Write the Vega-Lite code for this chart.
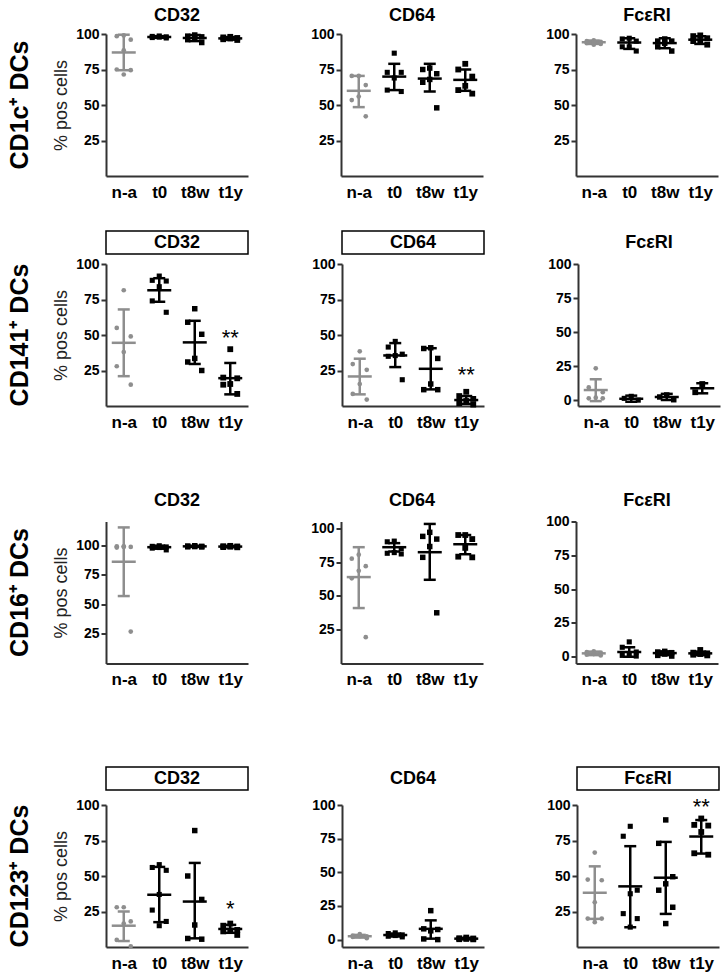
{
"$schema":"https://vega.github.io/schema/vega-lite/v6.json",
"padding":{"left":7,"top":4,"right":3,"bottom":3},
"background":"#ffffff",
"config":{
 "view":{"stroke":null},
 "font":"Liberation Sans",
 "axis":{"domainColor":"#333333","domainWidth":2,"tickColor":"#333333","tickWidth":2,"tickSize":5,"labelFont":"Liberation Sans","labelFontWeight":"bold","labelColor":"#000000","labelFontSize":14,"labelPadding":2,"labelOverlap":false,"grid":false,"titleFont":"Liberation Sans","titleFontWeight":"normal","titleFontSize":18,"titleColor":"#222222","titlePadding":5},
 "axisX":{"ticks":false,"labelFontSize":17,"labelPadding":8,"labelAngle":0},
 "title":{"font":"Liberation Sans","color":"#000000"}
},
"datasets":{
 "pts":[
  {"p":"1a","g":"n-a","v":99},{"p":"1a","g":"n-a","v":98.5},{"p":"1a","g":"n-a","v":96},{"p":"1a","g":"n-a","v":88.5},{"p":"1a","g":"n-a","v":75},{"p":"1a","g":"n-a","v":74.5},{"p":"1a","g":"n-a","v":71.5},
  {"p":"1a","g":"t0","v":98.6},{"p":"1a","g":"t0","v":98.3},{"p":"1a","g":"t0","v":98},{"p":"1a","g":"t0","v":97.8},{"p":"1a","g":"t0","v":97.5},{"p":"1a","g":"t0","v":97.2},
  {"p":"1a","g":"t8w","v":99.3},{"p":"1a","g":"t8w","v":98.5},{"p":"1a","g":"t8w","v":98},{"p":"1a","g":"t8w","v":97.2},{"p":"1a","g":"t8w","v":96},{"p":"1a","g":"t8w","v":94},
  {"p":"1a","g":"t1y","v":98},{"p":"1a","g":"t1y","v":97.6},{"p":"1a","g":"t1y","v":97.2},{"p":"1a","g":"t1y","v":96.8},{"p":"1a","g":"t1y","v":96.3},{"p":"1a","g":"t1y","v":95.8},
  {"p":"1b","g":"n-a","v":70.5},{"p":"1b","g":"n-a","v":70.5},{"p":"1b","g":"n-a","v":64},{"p":"1b","g":"n-a","v":56},{"p":"1b","g":"n-a","v":53.5},{"p":"1b","g":"n-a","v":42},
  {"p":"1b","g":"t0","v":86.5},{"p":"1b","g":"t0","v":73},{"p":"1b","g":"t0","v":73},{"p":"1b","g":"t0","v":69},{"p":"1b","g":"t0","v":60.5},{"p":"1b","g":"t0","v":59.5},
  {"p":"1b","g":"t8w","v":76},{"p":"1b","g":"t8w","v":75},{"p":"1b","g":"t8w","v":72},{"p":"1b","g":"t8w","v":68},{"p":"1b","g":"t8w","v":66},{"p":"1b","g":"t8w","v":48},
  {"p":"1b","g":"t1y","v":79},{"p":"1b","g":"t1y","v":75},{"p":"1b","g":"t1y","v":70},{"p":"1b","g":"t1y","v":63.5},{"p":"1b","g":"t1y","v":60.5},{"p":"1b","g":"t1y","v":58},
  {"p":"1c","g":"n-a","v":95.5},{"p":"1c","g":"n-a","v":95},{"p":"1c","g":"n-a","v":94.5},{"p":"1c","g":"n-a","v":94},{"p":"1c","g":"n-a","v":93.5},{"p":"1c","g":"n-a","v":93},{"p":"1c","g":"n-a","v":92.5},
  {"p":"1c","g":"t0","v":97},{"p":"1c","g":"t0","v":96.5},{"p":"1c","g":"t0","v":95},{"p":"1c","g":"t0","v":91},{"p":"1c","g":"t0","v":91},{"p":"1c","g":"t0","v":88},
  {"p":"1c","g":"t8w","v":96.5},{"p":"1c","g":"t8w","v":95},{"p":"1c","g":"t8w","v":95},{"p":"1c","g":"t8w","v":93.5},{"p":"1c","g":"t8w","v":91},{"p":"1c","g":"t8w","v":88},
  {"p":"1c","g":"t1y","v":99},{"p":"1c","g":"t1y","v":98.5},{"p":"1c","g":"t1y","v":97},{"p":"1c","g":"t1y","v":95},{"p":"1c","g":"t1y","v":95},{"p":"1c","g":"t1y","v":92.5},
  {"p":"2a","g":"n-a","v":81.5},{"p":"2a","g":"n-a","v":55},{"p":"2a","g":"n-a","v":49},{"p":"2a","g":"n-a","v":38},{"p":"2a","g":"n-a","v":28},{"p":"2a","g":"n-a","v":15},
  {"p":"2a","g":"t0","v":91.5},{"p":"2a","g":"t0","v":88.5},{"p":"2a","g":"t0","v":88},{"p":"2a","g":"t0","v":84},{"p":"2a","g":"t0","v":74},{"p":"2a","g":"t0","v":66},
  {"p":"2a","g":"t8w","v":68.5},{"p":"2a","g":"t8w","v":59},{"p":"2a","g":"t8w","v":50.5},{"p":"2a","g":"t8w","v":33.5},{"p":"2a","g":"t8w","v":31},{"p":"2a","g":"t8w","v":25},
  {"p":"2a","g":"t1y","v":40},{"p":"2a","g":"t1y","v":20},{"p":"2a","g":"t1y","v":19.5},{"p":"2a","g":"t1y","v":15.5},{"p":"2a","g":"t1y","v":15},{"p":"2a","g":"t1y","v":8.5},
  {"p":"2b","g":"n-a","v":38.5},{"p":"2b","g":"n-a","v":29.5},{"p":"2b","g":"n-a","v":25.5},{"p":"2b","g":"n-a","v":15.5},{"p":"2b","g":"n-a","v":8.5},{"p":"2b","g":"n-a","v":4.5},
  {"p":"2b","g":"t0","v":45.5},{"p":"2b","g":"t0","v":41.5},{"p":"2b","g":"t0","v":36.5},{"p":"2b","g":"t0","v":35.5},{"p":"2b","g":"t0","v":35},{"p":"2b","g":"t0","v":18.5},
  {"p":"2b","g":"t8w","v":41},{"p":"2b","g":"t8w","v":40.5},{"p":"2b","g":"t8w","v":33.5},{"p":"2b","g":"t8w","v":15.5},{"p":"2b","g":"t8w","v":11.5},{"p":"2b","g":"t8w","v":11.5},
  {"p":"2b","g":"t1y","v":10},{"p":"2b","g":"t1y","v":7},{"p":"2b","g":"t1y","v":5},{"p":"2b","g":"t1y","v":3.5},{"p":"2b","g":"t1y","v":2},{"p":"2b","g":"t1y","v":1},
  {"p":"2c","g":"n-a","v":23.5},{"p":"2c","g":"n-a","v":9.5},{"p":"2c","g":"n-a","v":6},{"p":"2c","g":"n-a","v":2},{"p":"2c","g":"n-a","v":1.5},{"p":"2c","g":"n-a","v":1.5},
  {"p":"2c","g":"t0","v":3},{"p":"2c","g":"t0","v":1.5},{"p":"2c","g":"t0","v":0.2},
  {"p":"2c","g":"t8w","v":4},{"p":"2c","g":"t8w","v":2.5},{"p":"2c","g":"t8w","v":0.5},
  {"p":"2c","g":"t1y","v":12},{"p":"2c","g":"t1y","v":6},
  {"p":"3a","g":"n-a","v":99},{"p":"3a","g":"n-a","v":98.5},{"p":"3a","g":"n-a","v":98},{"p":"3a","g":"n-a","v":98.5},{"p":"3a","g":"n-a","v":99},{"p":"3a","g":"n-a","v":27},
  {"p":"3a","g":"t0","v":99.5},{"p":"3a","g":"t0","v":99},{"p":"3a","g":"t0","v":98.5},{"p":"3a","g":"t0","v":98},{"p":"3a","g":"t0","v":97.5},{"p":"3a","g":"t0","v":96},
  {"p":"3a","g":"t8w","v":99.5},{"p":"3a","g":"t8w","v":99.3},{"p":"3a","g":"t8w","v":99},{"p":"3a","g":"t8w","v":98.8},{"p":"3a","g":"t8w","v":98.6},{"p":"3a","g":"t8w","v":98.5},
  {"p":"3a","g":"t1y","v":99.4},{"p":"3a","g":"t1y","v":99.1},{"p":"3a","g":"t1y","v":98.9},{"p":"3a","g":"t1y","v":98.7},{"p":"3a","g":"t1y","v":98.4},{"p":"3a","g":"t1y","v":98.2},
  {"p":"3b","g":"n-a","v":80.5},{"p":"3b","g":"n-a","v":77.5},{"p":"3b","g":"n-a","v":72},{"p":"3b","g":"n-a","v":68.5},{"p":"3b","g":"n-a","v":63},{"p":"3b","g":"n-a","v":19.5},
  {"p":"3b","g":"t0","v":90.5},{"p":"3b","g":"t0","v":90},{"p":"3b","g":"t0","v":85},{"p":"3b","g":"t0","v":82},{"p":"3b","g":"t0","v":81.5},{"p":"3b","g":"t0","v":81},
  {"p":"3b","g":"t8w","v":97},{"p":"3b","g":"t8w","v":94},{"p":"3b","g":"t8w","v":92},{"p":"3b","g":"t8w","v":86.5},{"p":"3b","g":"t8w","v":78.5},{"p":"3b","g":"t8w","v":37.5},
  {"p":"3b","g":"t1y","v":95},{"p":"3b","g":"t1y","v":95},{"p":"3b","g":"t1y","v":92},{"p":"3b","g":"t1y","v":85.5},{"p":"3b","g":"t1y","v":79},{"p":"3b","g":"t1y","v":78.5},
  {"p":"3c","g":"n-a","v":4},{"p":"3c","g":"n-a","v":3.5},{"p":"3c","g":"n-a","v":3},{"p":"3c","g":"n-a","v":2},{"p":"3c","g":"n-a","v":1.5},{"p":"3c","g":"n-a","v":1},
  {"p":"3c","g":"t0","v":11},{"p":"3c","g":"t0","v":7},{"p":"3c","g":"t0","v":3.5},{"p":"3c","g":"t0","v":2},{"p":"3c","g":"t0","v":1},{"p":"3c","g":"t0","v":0.5},
  {"p":"3c","g":"t8w","v":4},{"p":"3c","g":"t8w","v":3.5},{"p":"3c","g":"t8w","v":3},{"p":"3c","g":"t8w","v":2},{"p":"3c","g":"t8w","v":1},{"p":"3c","g":"t8w","v":0.5},
  {"p":"3c","g":"t1y","v":5},{"p":"3c","g":"t1y","v":3},{"p":"3c","g":"t1y","v":2.5},{"p":"3c","g":"t1y","v":2},{"p":"3c","g":"t1y","v":1.5},{"p":"3c","g":"t1y","v":1},
  {"p":"4a","g":"n-a","v":28},{"p":"4a","g":"n-a","v":28},{"p":"4a","g":"n-a","v":18},{"p":"4a","g":"n-a","v":16.5},{"p":"4a","g":"n-a","v":5},{"p":"4a","g":"n-a","v":0.5},
  {"p":"4a","g":"t0","v":58},{"p":"4a","g":"t0","v":56},{"p":"4a","g":"t0","v":54},{"p":"4a","g":"t0","v":37},{"p":"4a","g":"t0","v":26},{"p":"4a","g":"t0","v":18},{"p":"4a","g":"t0","v":15},
  {"p":"4a","g":"t8w","v":82},{"p":"4a","g":"t8w","v":50},{"p":"4a","g":"t8w","v":33.5},{"p":"4a","g":"t8w","v":15.5},{"p":"4a","g":"t8w","v":6},{"p":"4a","g":"t8w","v":5.5},
  {"p":"4a","g":"t1y","v":16.5},{"p":"4a","g":"t1y","v":15},{"p":"4a","g":"t1y","v":12},{"p":"4a","g":"t1y","v":11.5},{"p":"4a","g":"t1y","v":11},{"p":"4a","g":"t1y","v":8.5},
  {"p":"4b","g":"n-a","v":4},{"p":"4b","g":"n-a","v":3},{"p":"4b","g":"n-a","v":2.5},{"p":"4b","g":"n-a","v":2.5},{"p":"4b","g":"n-a","v":2},{"p":"4b","g":"n-a","v":1},
  {"p":"4b","g":"t0","v":5},{"p":"4b","g":"t0","v":4.5},{"p":"4b","g":"t0","v":3.5},{"p":"4b","g":"t0","v":3},{"p":"4b","g":"t0","v":2.5},{"p":"4b","g":"t0","v":2},
  {"p":"4b","g":"t8w","v":21.5},{"p":"4b","g":"t8w","v":8},{"p":"4b","g":"t8w","v":7.5},{"p":"4b","g":"t8w","v":6.5},{"p":"4b","g":"t8w","v":0.5},{"p":"4b","g":"t8w","v":0},
  {"p":"4b","g":"t1y","v":1.5},{"p":"4b","g":"t1y","v":1},{"p":"4b","g":"t1y","v":0.8},{"p":"4b","g":"t1y","v":0.5},{"p":"4b","g":"t1y","v":0.3},{"p":"4b","g":"t1y","v":0.2},
  {"p":"4c","g":"n-a","v":66.5},{"p":"4c","g":"n-a","v":47.5},{"p":"4c","g":"n-a","v":47},{"p":"4c","g":"n-a","v":31.5},{"p":"4c","g":"n-a","v":20},{"p":"4c","g":"n-a","v":20},{"p":"4c","g":"n-a","v":17.5},
  {"p":"4c","g":"t0","v":85},{"p":"4c","g":"t0","v":78},{"p":"4c","g":"t0","v":40},{"p":"4c","g":"t0","v":37.5},{"p":"4c","g":"t0","v":23.5},{"p":"4c","g":"t0","v":20},{"p":"4c","g":"t0","v":14},
  {"p":"4c","g":"t8w","v":89.5},{"p":"4c","g":"t8w","v":73},{"p":"4c","g":"t8w","v":49.5},{"p":"4c","g":"t8w","v":44.5},{"p":"4c","g":"t8w","v":40},{"p":"4c","g":"t8w","v":28},{"p":"4c","g":"t8w","v":16.5},
  {"p":"4c","g":"t1y","v":90.5},{"p":"4c","g":"t1y","v":86},{"p":"4c","g":"t1y","v":85.5},{"p":"4c","g":"t1y","v":81},{"p":"4c","g":"t1y","v":66},{"p":"4c","g":"t1y","v":65}
 ],
 "sd":[
  {"p":"1a","g":"n-a","m":87,"lo":74.5,"hi":99.5},{"p":"1a","g":"t0","m":97.9,"lo":97.3,"hi":98.5},{"p":"1a","g":"t8w","m":97.2,"lo":95,"hi":99.3},{"p":"1a","g":"t1y","m":96.9,"lo":96,"hi":97.8},
  {"p":"1b","g":"n-a","m":60,"lo":48.5,"hi":70.5},{"p":"1b","g":"t0","m":70,"lo":60.5,"hi":79},{"p":"1b","g":"t8w","m":68.6,"lo":59.5,"hi":79},{"p":"1b","g":"t1y","m":67.7,"lo":60,"hi":75},
  {"p":"1c","g":"n-a","m":94.2,"lo":93,"hi":95.4},{"p":"1c","g":"t0","m":94,"lo":89.5,"hi":97},{"p":"1c","g":"t8w","m":93.6,"lo":90,"hi":97},{"p":"1c","g":"t1y","m":96,"lo":93,"hi":98.4},
  {"p":"2a","g":"n-a","m":44.5,"lo":21,"hi":68},{"p":"2a","g":"t0","m":81.5,"lo":73.4,"hi":90},{"p":"2a","g":"t8w","m":44.8,"lo":29.6,"hi":60},{"p":"2a","g":"t1y","m":19.6,"lo":8.2,"hi":30.3},
  {"p":"2b","g":"n-a","m":20.8,"lo":8.2,"hi":33.3},{"p":"2b","g":"t0","m":35.6,"lo":27.4,"hi":44.3},{"p":"2b","g":"t8w","m":26.2,"lo":11.7,"hi":40.7},{"p":"2b","g":"t1y","m":4.2,"lo":1.5,"hi":7},
  {"p":"2c","g":"n-a","m":7.6,"lo":-0.5,"hi":15.5},{"p":"2c","g":"t0","m":1.2,"lo":-1,"hi":3.5},{"p":"2c","g":"t8w","m":2.5,"lo":0.3,"hi":4.8},{"p":"2c","g":"t1y","m":8.9,"lo":5.2,"hi":12.6},
  {"p":"3a","g":"n-a","m":86,"lo":57,"hi":115},{"p":"3a","g":"t0","m":98.3,"lo":97,"hi":99.6},{"p":"3a","g":"t8w","m":99,"lo":98.5,"hi":99.5},{"p":"3a","g":"t1y","m":98.8,"lo":98.3,"hi":99.3},
  {"p":"3b","g":"n-a","m":63.9,"lo":41,"hi":86},{"p":"3b","g":"t0","m":86,"lo":82.8,"hi":89},{"p":"3b","g":"t8w","m":82.3,"lo":61.9,"hi":103.2},{"p":"3b","g":"t1y","m":88.2,"lo":80.8,"hi":95},
  {"p":"3c","g":"n-a","m":2.5,"lo":1.2,"hi":3.8},{"p":"3c","g":"t0","m":3.5,"lo":0,"hi":7},{"p":"3c","g":"t8w","m":2.7,"lo":1.2,"hi":4},{"p":"3c","g":"t1y","m":2.5,"lo":1.2,"hi":3.8},
  {"p":"4a","g":"n-a","m":15,"lo":4.2,"hi":25},{"p":"4a","g":"t0","m":36.8,"lo":17.5,"hi":56.4},{"p":"4a","g":"t8w","m":32,"lo":6.1,"hi":59.2},{"p":"4a","g":"t1y","m":12.7,"lo":10,"hi":15.6},
  {"p":"4b","g":"n-a","m":2.5,"lo":1.5,"hi":3.5},{"p":"4b","g":"t0","m":3.4,"lo":2.3,"hi":4.5},{"p":"4b","g":"t8w","m":8,"lo":0.7,"hi":14.3},{"p":"4b","g":"t1y","m":0.7,"lo":0.2,"hi":1.2},
  {"p":"4c","g":"n-a","m":38.2,"lo":19.8,"hi":56.8},{"p":"4c","g":"t0","m":42.7,"lo":13.9,"hi":71},{"p":"4c","g":"t8w","m":48.8,"lo":23.3,"hi":74},{"p":"4c","g":"t1y","m":77.8,"lo":65.8,"hi":89.4}
 ],
 "sig":[
  {"p":"2a","g":"t1y","y":43,"s":"**"},{"p":"2b","g":"t1y","y":16.6,"s":"**"},{"p":"4a","g":"t1y","y":21.8,"s":"*"},{"p":"4c","g":"t1y","y":93.6,"s":"**"}
 ]
},
"vconcat":[
 {"vconcat":[
  {"vconcat":[
   {"concat":[
    {"width":142,"height":23,"data":{"values":[{"t":"CD32"}]},"mark":{"type":"text","fontSize":18,"fontWeight":"bold","color":"#000"},"encoding":{"text":{"field":"t","type":"nominal"}}},
    {"width":142,"height":23,"data":{"values":[{"t":"CD64"}]},"mark":{"type":"text","fontSize":18,"fontWeight":"bold","color":"#000"},"encoding":{"text":{"field":"t","type":"nominal"}}},
    {"width":142,"height":23,"data":{"values":[{"t":"FcεRI"}]},"mark":{"type":"text","fontSize":18,"fontWeight":"bold","color":"#000"},"encoding":{"text":{"field":"t","type":"nominal"}}},
    {"width":142,"height":142,
     "title":{"text":"CD1c⁺ DCs","orient":"left","anchor":"middle","frame":"group","fontSize":25,"fontWeight":"bold","offset":20},
     "encoding":{"x":{"field":"g","type":"nominal","scale":{"type":"point","domain":["n-a","t0","t8w","t1y"],"padding":0.5},"axis":{"title":null}},"color":{"field":"g","type":"nominal","scale":{"domain":["n-a","t0","t8w","t1y"],"range":["#8e8e8e","#000000","#000000","#000000"]},"legend":null}},
     "layer":[
      {"data":{"name":"sd"},"transform":[{"filter":"datum.p=='1a'"}],"mark":{"type":"rule","strokeWidth":2.5},"encoding":{"y":{"field":"lo","type":"quantitative","scale":{"domain":[0,100],"nice":false,"zero":false},"axis":{"values":[25,50,75,100],"tickCount":20,"labelOverlap":false,"titleFontSize":18},"title":"% pos cells"},"y2":{"field":"hi"}}},
      {"data":{"name":"sd"},"transform":[{"filter":"datum.p=='1a'"}],"mark":{"type":"tick","size":24,"thickness":2.5,"opacity":1},"encoding":{"y":{"field":"m","type":"quantitative","title":"% pos cells"}}},
      {"data":{"name":"sd"},"transform":[{"filter":"datum.p=='1a'"}],"mark":{"type":"tick","size":12,"thickness":2.5,"opacity":1},"encoding":{"y":{"field":"lo","type":"quantitative","title":"% pos cells"}}},
      {"data":{"name":"sd"},"transform":[{"filter":"datum.p=='1a'"}],"mark":{"type":"tick","size":12,"thickness":2.5,"opacity":1},"encoding":{"y":{"field":"hi","type":"quantitative","title":"% pos cells"}}},
      {"data":{"name":"pts"},"transform":[{"filter":"datum.p=='1a'"},{"window":[{"op":"row_number","as":"r"}],"groupby":["g"],"sort":[{"field":"v","order":"descending"}]},{"calculate":"datum.r % 3","as":"k"}],"mark":{"type":"point","filled":true,"opacity":1},"encoding":{"y":{"field":"v","type":"quantitative","title":"% pos cells"},"xOffset":{"field":"k","type":"nominal","scale":{"type":"point","domain":[2,1,0],"range":[-7,7],"padding":0}},"shape":{"field":"g","type":"nominal","scale":{"domain":["n-a","t0","t8w","t1y"],"range":["circle","square","square","square"]},"legend":null},"size":{"field":"g","type":"ordinal","scale":{"domain":["n-a","t0","t8w","t1y"],"range":[22,34,34,34]},"legend":null}}}
     ]},
    {"width":142,"height":142,
     "encoding":{"x":{"field":"g","type":"nominal","scale":{"type":"point","domain":["n-a","t0","t8w","t1y"],"padding":0.5},"axis":{"title":null}},"color":{"field":"g","type":"nominal","scale":{"domain":["n-a","t0","t8w","t1y"],"range":["#8e8e8e","#000000","#000000","#000000"]},"legend":null}},
     "layer":[
      {"data":{"name":"sd"},"transform":[{"filter":"datum.p=='1b'"}],"mark":{"type":"rule","strokeWidth":2.5},"encoding":{"y":{"field":"lo","type":"quantitative","scale":{"domain":[0,100],"nice":false,"zero":false},"axis":{"values":[25,50,75,100],"tickCount":20,"labelOverlap":false},"title":null},"y2":{"field":"hi"}}},
      {"data":{"name":"sd"},"transform":[{"filter":"datum.p=='1b'"}],"mark":{"type":"tick","size":24,"thickness":2.5,"opacity":1},"encoding":{"y":{"field":"m","type":"quantitative","title":null}}},
      {"data":{"name":"sd"},"transform":[{"filter":"datum.p=='1b'"}],"mark":{"type":"tick","size":12,"thickness":2.5,"opacity":1},"encoding":{"y":{"field":"lo","type":"quantitative","title":null}}},
      {"data":{"name":"sd"},"transform":[{"filter":"datum.p=='1b'"}],"mark":{"type":"tick","size":12,"thickness":2.5,"opacity":1},"encoding":{"y":{"field":"hi","type":"quantitative","title":null}}},
      {"data":{"name":"pts"},"transform":[{"filter":"datum.p=='1b'"},{"window":[{"op":"row_number","as":"r"}],"groupby":["g"],"sort":[{"field":"v","order":"descending"}]},{"calculate":"datum.r % 3","as":"k"}],"mark":{"type":"point","filled":true,"opacity":1},"encoding":{"y":{"field":"v","type":"quantitative","title":null},"xOffset":{"field":"k","type":"nominal","scale":{"type":"point","domain":[2,1,0],"range":[-7,7],"padding":0}},"shape":{"field":"g","type":"nominal","scale":{"domain":["n-a","t0","t8w","t1y"],"range":["circle","square","square","square"]},"legend":null},"size":{"field":"g","type":"ordinal","scale":{"domain":["n-a","t0","t8w","t1y"],"range":[22,34,34,34]},"legend":null}}}
     ]},
    {"width":142,"height":142,
     "encoding":{"x":{"field":"g","type":"nominal","scale":{"type":"point","domain":["n-a","t0","t8w","t1y"],"padding":0.5},"axis":{"title":null}},"color":{"field":"g","type":"nominal","scale":{"domain":["n-a","t0","t8w","t1y"],"range":["#8e8e8e","#000000","#000000","#000000"]},"legend":null}},
     "layer":[
      {"data":{"name":"sd"},"transform":[{"filter":"datum.p=='1c'"}],"mark":{"type":"rule","strokeWidth":2.5},"encoding":{"y":{"field":"lo","type":"quantitative","scale":{"domain":[0,100],"nice":false,"zero":false},"axis":{"values":[25,50,75,100],"tickCount":20,"labelOverlap":false},"title":null},"y2":{"field":"hi"}}},
      {"data":{"name":"sd"},"transform":[{"filter":"datum.p=='1c'"}],"mark":{"type":"tick","size":24,"thickness":2.5,"opacity":1},"encoding":{"y":{"field":"m","type":"quantitative","title":null}}},
      {"data":{"name":"sd"},"transform":[{"filter":"datum.p=='1c'"}],"mark":{"type":"tick","size":12,"thickness":2.5,"opacity":1},"encoding":{"y":{"field":"lo","type":"quantitative","title":null}}},
      {"data":{"name":"sd"},"transform":[{"filter":"datum.p=='1c'"}],"mark":{"type":"tick","size":12,"thickness":2.5,"opacity":1},"encoding":{"y":{"field":"hi","type":"quantitative","title":null}}},
      {"data":{"name":"pts"},"transform":[{"filter":"datum.p=='1c'"},{"window":[{"op":"row_number","as":"r"}],"groupby":["g"],"sort":[{"field":"v","order":"descending"}]},{"calculate":"datum.r % 3","as":"k"}],"mark":{"type":"point","filled":true,"opacity":1},"encoding":{"y":{"field":"v","type":"quantitative","title":null},"xOffset":{"field":"k","type":"nominal","scale":{"type":"point","domain":[2,1,0],"range":[-7,7],"padding":0}},"shape":{"field":"g","type":"nominal","scale":{"domain":["n-a","t0","t8w","t1y"],"range":["circle","square","square","square"]},"legend":null},"size":{"field":"g","type":"ordinal","scale":{"domain":["n-a","t0","t8w","t1y"],"range":[22,34,34,34]},"legend":null}}}
     ]}
   ],"columns":3,"align":"each","spacing":{"row":0,"column":62}},
   {"concat":[
    {"width":142,"height":23,"view":{"stroke":"#000","strokeWidth":1.5},"data":{"values":[{"t":"CD32"}]},"mark":{"type":"text","fontSize":18,"fontWeight":"bold","color":"#000"},"encoding":{"text":{"field":"t","type":"nominal"}}},
    {"width":142,"height":23,"view":{"stroke":"#000","strokeWidth":1.5},"data":{"values":[{"t":"CD64"}]},"mark":{"type":"text","fontSize":18,"fontWeight":"bold","color":"#000"},"encoding":{"text":{"field":"t","type":"nominal"}}},
    {"width":142,"height":23,"data":{"values":[{"t":"FcεRI"}]},"mark":{"type":"text","fontSize":18,"fontWeight":"bold","color":"#000"},"encoding":{"text":{"field":"t","type":"nominal"}}},
    {"width":142,"height":142,
     "title":{"text":"CD141⁺ DCs","orient":"left","anchor":"middle","frame":"group","fontSize":25,"fontWeight":"bold","offset":20},
     "encoding":{"x":{"field":"g","type":"nominal","scale":{"type":"point","domain":["n-a","t0","t8w","t1y"],"padding":0.5},"axis":{"title":null}},"color":{"field":"g","type":"nominal","scale":{"domain":["n-a","t0","t8w","t1y"],"range":["#8e8e8e","#000000","#000000","#000000"]},"legend":null}},
     "layer":[
      {"data":{"name":"sd"},"transform":[{"filter":"datum.p=='2a'"}],"mark":{"type":"rule","strokeWidth":2.5},"encoding":{"y":{"field":"lo","type":"quantitative","scale":{"domain":[0,100],"nice":false,"zero":false},"axis":{"values":[25,50,75,100],"tickCount":20,"labelOverlap":false,"titleFontSize":18},"title":"% pos cells"},"y2":{"field":"hi"}}},
      {"data":{"name":"sd"},"transform":[{"filter":"datum.p=='2a'"}],"mark":{"type":"tick","size":24,"thickness":2.5,"opacity":1},"encoding":{"y":{"field":"m","type":"quantitative","title":"% pos cells"}}},
      {"data":{"name":"sd"},"transform":[{"filter":"datum.p=='2a'"}],"mark":{"type":"tick","size":12,"thickness":2.5,"opacity":1},"encoding":{"y":{"field":"lo","type":"quantitative","title":"% pos cells"}}},
      {"data":{"name":"sd"},"transform":[{"filter":"datum.p=='2a'"}],"mark":{"type":"tick","size":12,"thickness":2.5,"opacity":1},"encoding":{"y":{"field":"hi","type":"quantitative","title":"% pos cells"}}},
      {"data":{"name":"pts"},"transform":[{"filter":"datum.p=='2a'"},{"window":[{"op":"row_number","as":"r"}],"groupby":["g"],"sort":[{"field":"v","order":"descending"}]},{"calculate":"datum.r % 3","as":"k"}],"mark":{"type":"point","filled":true,"opacity":1},"encoding":{"y":{"field":"v","type":"quantitative","title":"% pos cells"},"xOffset":{"field":"k","type":"nominal","scale":{"type":"point","domain":[2,1,0],"range":[-7,7],"padding":0}},"shape":{"field":"g","type":"nominal","scale":{"domain":["n-a","t0","t8w","t1y"],"range":["circle","square","square","square"]},"legend":null},"size":{"field":"g","type":"ordinal","scale":{"domain":["n-a","t0","t8w","t1y"],"range":[22,34,34,34]},"legend":null}}},
      {"data":{"name":"sig"},"transform":[{"filter":"datum.p=='2a'"}],"mark":{"type":"text","fontSize":22,"baseline":"alphabetic"},"encoding":{"y":{"field":"y","type":"quantitative","title":"% pos cells"},"text":{"field":"s","type":"nominal"}}}
     ]},
    {"width":142,"height":142,
     "encoding":{"x":{"field":"g","type":"nominal","scale":{"type":"point","domain":["n-a","t0","t8w","t1y"],"padding":0.5},"axis":{"title":null}},"color":{"field":"g","type":"nominal","scale":{"domain":["n-a","t0","t8w","t1y"],"range":["#8e8e8e","#000000","#000000","#000000"]},"legend":null}},
     "layer":[
      {"data":{"name":"sd"},"transform":[{"filter":"datum.p=='2b'"}],"mark":{"type":"rule","strokeWidth":2.5},"encoding":{"y":{"field":"lo","type":"quantitative","scale":{"domain":[0,100],"nice":false,"zero":false},"axis":{"values":[25,50,75,100],"tickCount":20,"labelOverlap":false},"title":null},"y2":{"field":"hi"}}},
      {"data":{"name":"sd"},"transform":[{"filter":"datum.p=='2b'"}],"mark":{"type":"tick","size":24,"thickness":2.5,"opacity":1},"encoding":{"y":{"field":"m","type":"quantitative","title":null}}},
      {"data":{"name":"sd"},"transform":[{"filter":"datum.p=='2b'"}],"mark":{"type":"tick","size":12,"thickness":2.5,"opacity":1},"encoding":{"y":{"field":"lo","type":"quantitative","title":null}}},
      {"data":{"name":"sd"},"transform":[{"filter":"datum.p=='2b'"}],"mark":{"type":"tick","size":12,"thickness":2.5,"opacity":1},"encoding":{"y":{"field":"hi","type":"quantitative","title":null}}},
      {"data":{"name":"pts"},"transform":[{"filter":"datum.p=='2b'"},{"window":[{"op":"row_number","as":"r"}],"groupby":["g"],"sort":[{"field":"v","order":"descending"}]},{"calculate":"datum.r % 3","as":"k"}],"mark":{"type":"point","filled":true,"opacity":1},"encoding":{"y":{"field":"v","type":"quantitative","title":null},"xOffset":{"field":"k","type":"nominal","scale":{"type":"point","domain":[2,1,0],"range":[-7,7],"padding":0}},"shape":{"field":"g","type":"nominal","scale":{"domain":["n-a","t0","t8w","t1y"],"range":["circle","square","square","square"]},"legend":null},"size":{"field":"g","type":"ordinal","scale":{"domain":["n-a","t0","t8w","t1y"],"range":[22,34,34,34]},"legend":null}}},
      {"data":{"name":"sig"},"transform":[{"filter":"datum.p=='2b'"}],"mark":{"type":"text","fontSize":22,"baseline":"alphabetic"},"encoding":{"y":{"field":"y","type":"quantitative","title":null},"text":{"field":"s","type":"nominal"}}}
     ]},
    {"width":142,"height":142,
     "encoding":{"x":{"field":"g","type":"nominal","scale":{"type":"point","domain":["n-a","t0","t8w","t1y"],"padding":0.5},"axis":{"title":null}},"color":{"field":"g","type":"nominal","scale":{"domain":["n-a","t0","t8w","t1y"],"range":["#8e8e8e","#000000","#000000","#000000"]},"legend":null}},
     "layer":[
      {"data":{"name":"sd"},"transform":[{"filter":"datum.p=='2c'"}],"mark":{"type":"rule","strokeWidth":2.5},"encoding":{"y":{"field":"lo","type":"quantitative","scale":{"domain":[-4.1,100],"nice":false,"zero":false},"axis":{"values":[0,25,50,75,100],"tickCount":20,"labelOverlap":false},"title":null},"y2":{"field":"hi"}}},
      {"data":{"name":"sd"},"transform":[{"filter":"datum.p=='2c'"}],"mark":{"type":"tick","size":24,"thickness":2.5,"opacity":1},"encoding":{"y":{"field":"m","type":"quantitative","title":null}}},
      {"data":{"name":"sd"},"transform":[{"filter":"datum.p=='2c'"}],"mark":{"type":"tick","size":12,"thickness":2.5,"opacity":1},"encoding":{"y":{"field":"lo","type":"quantitative","title":null}}},
      {"data":{"name":"sd"},"transform":[{"filter":"datum.p=='2c'"}],"mark":{"type":"tick","size":12,"thickness":2.5,"opacity":1},"encoding":{"y":{"field":"hi","type":"quantitative","title":null}}},
      {"data":{"name":"pts"},"transform":[{"filter":"datum.p=='2c'"},{"window":[{"op":"row_number","as":"r"}],"groupby":["g"],"sort":[{"field":"v","order":"descending"}]},{"calculate":"datum.r % 3","as":"k"}],"mark":{"type":"point","filled":true,"opacity":1},"encoding":{"y":{"field":"v","type":"quantitative","title":null},"xOffset":{"field":"k","type":"nominal","scale":{"type":"point","domain":[2,1,0],"range":[-7,7],"padding":0}},"shape":{"field":"g","type":"nominal","scale":{"domain":["n-a","t0","t8w","t1y"],"range":["circle","square","square","square"]},"legend":null},"size":{"field":"g","type":"ordinal","scale":{"domain":["n-a","t0","t8w","t1y"],"range":[22,34,34,34]},"legend":null}}}
     ]}
   ],"columns":3,"align":"each","spacing":{"row":2,"column":62}}
  ],"spacing":30},
  {"concat":[
   {"width":142,"height":23,"data":{"values":[{"t":"CD32"}]},"mark":{"type":"text","fontSize":18,"fontWeight":"bold","color":"#000"},"encoding":{"text":{"field":"t","type":"nominal"}}},
   {"width":142,"height":23,"data":{"values":[{"t":"CD64"}]},"mark":{"type":"text","fontSize":18,"fontWeight":"bold","color":"#000"},"encoding":{"text":{"field":"t","type":"nominal"}}},
   {"width":142,"height":23,"data":{"values":[{"t":"FcεRI"}]},"mark":{"type":"text","fontSize":18,"fontWeight":"bold","color":"#000"},"encoding":{"text":{"field":"t","type":"nominal"}}},
   {"width":142,"height":142,
    "title":{"text":"CD16⁺ DCs","orient":"left","anchor":"middle","frame":"group","fontSize":25,"fontWeight":"bold","offset":20},
    "encoding":{"x":{"field":"g","type":"nominal","scale":{"type":"point","domain":["n-a","t0","t8w","t1y"],"padding":0.5},"axis":{"title":null}},"color":{"field":"g","type":"nominal","scale":{"domain":["n-a","t0","t8w","t1y"],"range":["#8e8e8e","#000000","#000000","#000000"]},"legend":null}},
    "layer":[
     {"data":{"name":"sd"},"transform":[{"filter":"datum.p=='3a'"}],"mark":{"type":"rule","strokeWidth":2.5},"encoding":{"y":{"field":"lo","type":"quantitative","scale":{"domain":[0,120],"nice":false,"zero":false},"axis":{"values":[25,50,75,100],"tickCount":20,"labelOverlap":false,"titleFontSize":18},"title":"% pos cells"},"y2":{"field":"hi"}}},
     {"data":{"name":"sd"},"transform":[{"filter":"datum.p=='3a'"}],"mark":{"type":"tick","size":24,"thickness":2.5,"opacity":1},"encoding":{"y":{"field":"m","type":"quantitative","title":"% pos cells"}}},
     {"data":{"name":"sd"},"transform":[{"filter":"datum.p=='3a'"}],"mark":{"type":"tick","size":12,"thickness":2.5,"opacity":1},"encoding":{"y":{"field":"lo","type":"quantitative","title":"% pos cells"}}},
     {"data":{"name":"sd"},"transform":[{"filter":"datum.p=='3a'"}],"mark":{"type":"tick","size":12,"thickness":2.5,"opacity":1},"encoding":{"y":{"field":"hi","type":"quantitative","title":"% pos cells"}}},
     {"data":{"name":"pts"},"transform":[{"filter":"datum.p=='3a'"},{"window":[{"op":"row_number","as":"r"}],"groupby":["g"],"sort":[{"field":"v","order":"descending"}]},{"calculate":"datum.r % 3","as":"k"}],"mark":{"type":"point","filled":true,"opacity":1},"encoding":{"y":{"field":"v","type":"quantitative","title":"% pos cells"},"xOffset":{"field":"k","type":"nominal","scale":{"type":"point","domain":[2,1,0],"range":[-7,7],"padding":0}},"shape":{"field":"g","type":"nominal","scale":{"domain":["n-a","t0","t8w","t1y"],"range":["circle","square","square","square"]},"legend":null},"size":{"field":"g","type":"ordinal","scale":{"domain":["n-a","t0","t8w","t1y"],"range":[22,34,34,34]},"legend":null}}}
    ]},
   {"width":142,"height":142,
    "encoding":{"x":{"field":"g","type":"nominal","scale":{"type":"point","domain":["n-a","t0","t8w","t1y"],"padding":0.5},"axis":{"title":null}},"color":{"field":"g","type":"nominal","scale":{"domain":["n-a","t0","t8w","t1y"],"range":["#8e8e8e","#000000","#000000","#000000"]},"legend":null}},
    "layer":[
     {"data":{"name":"sd"},"transform":[{"filter":"datum.p=='3b'"}],"mark":{"type":"rule","strokeWidth":2.5},"encoding":{"y":{"field":"lo","type":"quantitative","scale":{"domain":[0,105],"nice":false,"zero":false},"axis":{"values":[25,50,75,100],"tickCount":20,"labelOverlap":false},"title":null},"y2":{"field":"hi"}}},
     {"data":{"name":"sd"},"transform":[{"filter":"datum.p=='3b'"}],"mark":{"type":"tick","size":24,"thickness":2.5,"opacity":1},"encoding":{"y":{"field":"m","type":"quantitative","title":null}}},
     {"data":{"name":"sd"},"transform":[{"filter":"datum.p=='3b'"}],"mark":{"type":"tick","size":12,"thickness":2.5,"opacity":1},"encoding":{"y":{"field":"lo","type":"quantitative","title":null}}},
     {"data":{"name":"sd"},"transform":[{"filter":"datum.p=='3b'"}],"mark":{"type":"tick","size":12,"thickness":2.5,"opacity":1},"encoding":{"y":{"field":"hi","type":"quantitative","title":null}}},
     {"data":{"name":"pts"},"transform":[{"filter":"datum.p=='3b'"},{"window":[{"op":"row_number","as":"r"}],"groupby":["g"],"sort":[{"field":"v","order":"descending"}]},{"calculate":"datum.r % 3","as":"k"}],"mark":{"type":"point","filled":true,"opacity":1},"encoding":{"y":{"field":"v","type":"quantitative","title":null},"xOffset":{"field":"k","type":"nominal","scale":{"type":"point","domain":[2,1,0],"range":[-7,7],"padding":0}},"shape":{"field":"g","type":"nominal","scale":{"domain":["n-a","t0","t8w","t1y"],"range":["circle","square","square","square"]},"legend":null},"size":{"field":"g","type":"ordinal","scale":{"domain":["n-a","t0","t8w","t1y"],"range":[22,34,34,34]},"legend":null}}}
    ]},
   {"width":142,"height":142,
    "encoding":{"x":{"field":"g","type":"nominal","scale":{"type":"point","domain":["n-a","t0","t8w","t1y"],"padding":0.5},"axis":{"title":null}},"color":{"field":"g","type":"nominal","scale":{"domain":["n-a","t0","t8w","t1y"],"range":["#8e8e8e","#000000","#000000","#000000"]},"legend":null}},
    "layer":[
     {"data":{"name":"sd"},"transform":[{"filter":"datum.p=='3c'"}],"mark":{"type":"rule","strokeWidth":2.5},"encoding":{"y":{"field":"lo","type":"quantitative","scale":{"domain":[-5,100],"nice":false,"zero":false},"axis":{"values":[0,25,50,75,100],"tickCount":20,"labelOverlap":false},"title":null},"y2":{"field":"hi"}}},
     {"data":{"name":"sd"},"transform":[{"filter":"datum.p=='3c'"}],"mark":{"type":"tick","size":24,"thickness":2.5,"opacity":1},"encoding":{"y":{"field":"m","type":"quantitative","title":null}}},
     {"data":{"name":"sd"},"transform":[{"filter":"datum.p=='3c'"}],"mark":{"type":"tick","size":12,"thickness":2.5,"opacity":1},"encoding":{"y":{"field":"lo","type":"quantitative","title":null}}},
     {"data":{"name":"sd"},"transform":[{"filter":"datum.p=='3c'"}],"mark":{"type":"tick","size":12,"thickness":2.5,"opacity":1},"encoding":{"y":{"field":"hi","type":"quantitative","title":null}}},
     {"data":{"name":"pts"},"transform":[{"filter":"datum.p=='3c'"},{"window":[{"op":"row_number","as":"r"}],"groupby":["g"],"sort":[{"field":"v","order":"descending"}]},{"calculate":"datum.r % 3","as":"k"}],"mark":{"type":"point","filled":true,"opacity":1},"encoding":{"y":{"field":"v","type":"quantitative","title":null},"xOffset":{"field":"k","type":"nominal","scale":{"type":"point","domain":[2,1,0],"range":[-7,7],"padding":0}},"shape":{"field":"g","type":"nominal","scale":{"domain":["n-a","t0","t8w","t1y"],"range":["circle","square","square","square"]},"legend":null},"size":{"field":"g","type":"ordinal","scale":{"domain":["n-a","t0","t8w","t1y"],"range":[22,34,34,34]},"legend":null}}}
    ]}
  ],"columns":3,"align":"each","spacing":{"row":2.5,"column":62}}
 ],"spacing":59},
 {"concat":[
  {"width":142,"height":23,"view":{"stroke":"#000","strokeWidth":1.5},"data":{"values":[{"t":"CD32"}]},"mark":{"type":"text","fontSize":18,"fontWeight":"bold","color":"#000"},"encoding":{"text":{"field":"t","type":"nominal"}}},
  {"width":142,"height":23,"data":{"values":[{"t":"CD64"}]},"mark":{"type":"text","fontSize":18,"fontWeight":"bold","color":"#000"},"encoding":{"text":{"field":"t","type":"nominal"}}},
  {"width":142,"height":23,"view":{"stroke":"#000","strokeWidth":1.5},"data":{"values":[{"t":"FcεRI"}]},"mark":{"type":"text","fontSize":18,"fontWeight":"bold","color":"#000"},"encoding":{"text":{"field":"t","type":"nominal"}}},
  {"width":142,"height":142,
   "title":{"text":"CD123⁺ DCs","orient":"left","anchor":"middle","frame":"group","fontSize":25,"fontWeight":"bold","offset":20},
   "encoding":{"x":{"field":"g","type":"nominal","scale":{"type":"point","domain":["n-a","t0","t8w","t1y"],"padding":0.5},"axis":{"title":null}},"color":{"field":"g","type":"nominal","scale":{"domain":["n-a","t0","t8w","t1y"],"range":["#8e8e8e","#000000","#000000","#000000"]},"legend":null}},
   "layer":[
    {"data":{"name":"sd"},"transform":[{"filter":"datum.p=='4a'"}],"mark":{"type":"rule","strokeWidth":2.5},"encoding":{"y":{"field":"lo","type":"quantitative","scale":{"domain":[0,100],"nice":false,"zero":false},"axis":{"values":[25,50,75,100],"tickCount":20,"labelOverlap":false,"titleFontSize":18},"title":"% pos cells"},"y2":{"field":"hi"}}},
    {"data":{"name":"sd"},"transform":[{"filter":"datum.p=='4a'"}],"mark":{"type":"tick","size":24,"thickness":2.5,"opacity":1},"encoding":{"y":{"field":"m","type":"quantitative","title":"% pos cells"}}},
    {"data":{"name":"sd"},"transform":[{"filter":"datum.p=='4a'"}],"mark":{"type":"tick","size":12,"thickness":2.5,"opacity":1},"encoding":{"y":{"field":"lo","type":"quantitative","title":"% pos cells"}}},
    {"data":{"name":"sd"},"transform":[{"filter":"datum.p=='4a'"}],"mark":{"type":"tick","size":12,"thickness":2.5,"opacity":1},"encoding":{"y":{"field":"hi","type":"quantitative","title":"% pos cells"}}},
    {"data":{"name":"pts"},"transform":[{"filter":"datum.p=='4a'"},{"window":[{"op":"row_number","as":"r"}],"groupby":["g"],"sort":[{"field":"v","order":"descending"}]},{"calculate":"datum.r % 3","as":"k"}],"mark":{"type":"point","filled":true,"opacity":1},"encoding":{"y":{"field":"v","type":"quantitative","title":"% pos cells"},"xOffset":{"field":"k","type":"nominal","scale":{"type":"point","domain":[2,1,0],"range":[-7,7],"padding":0}},"shape":{"field":"g","type":"nominal","scale":{"domain":["n-a","t0","t8w","t1y"],"range":["circle","square","square","square"]},"legend":null},"size":{"field":"g","type":"ordinal","scale":{"domain":["n-a","t0","t8w","t1y"],"range":[22,34,34,34]},"legend":null}}},
    {"data":{"name":"sig"},"transform":[{"filter":"datum.p=='4a'"}],"mark":{"type":"text","fontSize":22,"baseline":"alphabetic"},"encoding":{"y":{"field":"y","type":"quantitative","title":"% pos cells"},"text":{"field":"s","type":"nominal"}}}
   ]},
  {"width":142,"height":142,
   "encoding":{"x":{"field":"g","type":"nominal","scale":{"type":"point","domain":["n-a","t0","t8w","t1y"],"padding":0.5},"axis":{"title":null}},"color":{"field":"g","type":"nominal","scale":{"domain":["n-a","t0","t8w","t1y"],"range":["#8e8e8e","#000000","#000000","#000000"]},"legend":null}},
   "layer":[
    {"data":{"name":"sd"},"transform":[{"filter":"datum.p=='4b'"}],"mark":{"type":"rule","strokeWidth":2.5},"encoding":{"y":{"field":"lo","type":"quantitative","scale":{"domain":[-5.5,100],"nice":false,"zero":false},"axis":{"values":[0,25,50,75,100],"tickCount":20,"labelOverlap":false},"title":null},"y2":{"field":"hi"}}},
    {"data":{"name":"sd"},"transform":[{"filter":"datum.p=='4b'"}],"mark":{"type":"tick","size":24,"thickness":2.5,"opacity":1},"encoding":{"y":{"field":"m","type":"quantitative","title":null}}},
    {"data":{"name":"sd"},"transform":[{"filter":"datum.p=='4b'"}],"mark":{"type":"tick","size":12,"thickness":2.5,"opacity":1},"encoding":{"y":{"field":"lo","type":"quantitative","title":null}}},
    {"data":{"name":"sd"},"transform":[{"filter":"datum.p=='4b'"}],"mark":{"type":"tick","size":12,"thickness":2.5,"opacity":1},"encoding":{"y":{"field":"hi","type":"quantitative","title":null}}},
    {"data":{"name":"pts"},"transform":[{"filter":"datum.p=='4b'"},{"window":[{"op":"row_number","as":"r"}],"groupby":["g"],"sort":[{"field":"v","order":"descending"}]},{"calculate":"datum.r % 3","as":"k"}],"mark":{"type":"point","filled":true,"opacity":1},"encoding":{"y":{"field":"v","type":"quantitative","title":null},"xOffset":{"field":"k","type":"nominal","scale":{"type":"point","domain":[2,1,0],"range":[-7,7],"padding":0}},"shape":{"field":"g","type":"nominal","scale":{"domain":["n-a","t0","t8w","t1y"],"range":["circle","square","square","square"]},"legend":null},"size":{"field":"g","type":"ordinal","scale":{"domain":["n-a","t0","t8w","t1y"],"range":[22,34,34,34]},"legend":null}}}
   ]},
  {"width":142,"height":142,
   "encoding":{"x":{"field":"g","type":"nominal","scale":{"type":"point","domain":["n-a","t0","t8w","t1y"],"padding":0.5},"axis":{"title":null}},"color":{"field":"g","type":"nominal","scale":{"domain":["n-a","t0","t8w","t1y"],"range":["#8e8e8e","#000000","#000000","#000000"]},"legend":null}},
   "layer":[
    {"data":{"name":"sd"},"transform":[{"filter":"datum.p=='4c'"}],"mark":{"type":"rule","strokeWidth":2.5},"encoding":{"y":{"field":"lo","type":"quantitative","scale":{"domain":[0,100],"nice":false,"zero":false},"axis":{"values":[25,50,75,100],"tickCount":20,"labelOverlap":false},"title":null},"y2":{"field":"hi"}}},
    {"data":{"name":"sd"},"transform":[{"filter":"datum.p=='4c'"}],"mark":{"type":"tick","size":24,"thickness":2.5,"opacity":1},"encoding":{"y":{"field":"m","type":"quantitative","title":null}}},
    {"data":{"name":"sd"},"transform":[{"filter":"datum.p=='4c'"}],"mark":{"type":"tick","size":12,"thickness":2.5,"opacity":1},"encoding":{"y":{"field":"lo","type":"quantitative","title":null}}},
    {"data":{"name":"sd"},"transform":[{"filter":"datum.p=='4c'"}],"mark":{"type":"tick","size":12,"thickness":2.5,"opacity":1},"encoding":{"y":{"field":"hi","type":"quantitative","title":null}}},
    {"data":{"name":"pts"},"transform":[{"filter":"datum.p=='4c'"},{"window":[{"op":"row_number","as":"r"}],"groupby":["g"],"sort":[{"field":"v","order":"descending"}]},{"calculate":"datum.r % 3","as":"k"}],"mark":{"type":"point","filled":true,"opacity":1},"encoding":{"y":{"field":"v","type":"quantitative","title":null},"xOffset":{"field":"k","type":"nominal","scale":{"type":"point","domain":[2,1,0],"range":[-7,7],"padding":0}},"shape":{"field":"g","type":"nominal","scale":{"domain":["n-a","t0","t8w","t1y"],"range":["circle","square","square","square"]},"legend":null},"size":{"field":"g","type":"ordinal","scale":{"domain":["n-a","t0","t8w","t1y"],"range":[22,34,34,34]},"legend":null}}},
    {"data":{"name":"sig"},"transform":[{"filter":"datum.p=='4c'"}],"mark":{"type":"text","fontSize":22,"baseline":"alphabetic"},"encoding":{"y":{"field":"y","type":"quantitative","title":null},"text":{"field":"s","type":"nominal"}}}
   ]}
 ],"columns":3,"align":"each","spacing":{"row":5,"column":62}}
],"spacing":78
}
